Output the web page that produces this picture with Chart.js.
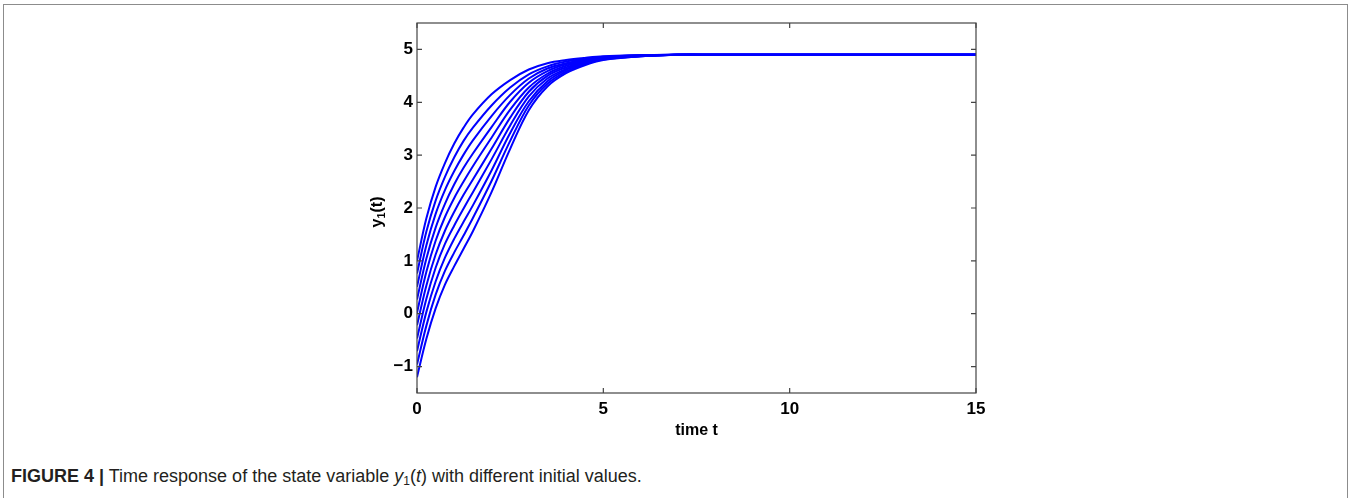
<!DOCTYPE html>
<html>
<head>
<meta charset="utf-8">
<script src="https://cdn.jsdelivr.net/npm/chart.js@4.4.1/dist/chart.umd.min.js"></script>
<style>
  html, body { margin: 0; padding: 0; background: #fff; }
  body { width: 1355px; height: 498px; position: relative; overflow: hidden; }
  .frame {
    position: absolute; left: 3px; top: 4px; width: 1345px; height: 600px;
    border: 1.5px solid #8c8c8c; box-sizing: border-box;
  }
  #wrap { position: absolute; left: 0; top: 0; width: 1355px; height: 445px; }
  .caption {
    position: absolute; left: 11px; top: 466px;
    font-family: "Liberation Sans", Arial, sans-serif; font-size: 18px; color: #231f20;
    white-space: nowrap;
  }
  .caption sub { font-size: 12px; vertical-align: -3px; line-height: 0; }
</style>
</head>
<body>
<div class="frame"></div>
<div id="wrap"><canvas id="chart" width="1355" height="445"></canvas></div>
<div class="caption"><b>FIGURE 4 |</b> Time response of the state variable <i>y</i><sub>1</sub>(<i>t</i>) with different initial values.</div>
<script>
// sample times
const times = [0, 0.25, 0.5, 0.75, 1, 1.25, 1.5, 2, 2.5, 3, 3.5, 4, 4.5, 5, 6, 7, 8, 10, 15];

// y1(t) for each initial value (top curve first)
const curve1 = [1.0, 1.8, 2.4, 2.85, 3.22, 3.52, 3.77, 4.15, 4.42, 4.62, 4.74, 4.8, 4.84, 4.87, 4.89, 4.9, 4.9, 4.9, 4.9];
const curve2 = [0.76, 1.55, 2.14, 2.59, 2.96, 3.27, 3.52, 3.94, 4.28, 4.53, 4.68, 4.77, 4.82, 4.86, 4.89, 4.9, 4.9, 4.9, 4.9];
const curve3 = [0.51, 1.29, 1.89, 2.34, 2.70, 3.01, 3.28, 3.74, 4.14, 4.45, 4.64, 4.74, 4.81, 4.85, 4.89, 4.9, 4.9, 4.9, 4.9];
const curve4 = [0.27, 1.04, 1.63, 2.08, 2.45, 2.76, 3.03, 3.53, 4.01, 4.37, 4.59, 4.72, 4.79, 4.85, 4.88, 4.9, 4.9, 4.9, 4.9];
const curve5 = [0.02, 0.79, 1.38, 1.83, 2.19, 2.50, 2.79, 3.33, 3.86, 4.28, 4.54, 4.69, 4.78, 4.84, 4.88, 4.9, 4.9, 4.9, 4.9];
const curve6 = [-0.22, 0.53, 1.12, 1.57, 1.93, 2.25, 2.54, 3.12, 3.71, 4.20, 4.50, 4.66, 4.76, 4.83, 4.88, 4.9, 4.9, 4.9, 4.9];
const curve7 = [-0.47, 0.28, 0.87, 1.32, 1.67, 1.99, 2.30, 2.92, 3.56, 4.11, 4.45, 4.63, 4.75, 4.82, 4.88, 4.9, 4.9, 4.9, 4.9];
const curve8 = [-0.71, 0.03, 0.61, 1.06, 1.42, 1.74, 2.05, 2.71, 3.42, 4.02, 4.40, 4.61, 4.73, 4.82, 4.87, 4.9, 4.9, 4.9, 4.9];
const curve9 = [-0.96, -0.23, 0.36, 0.81, 1.16, 1.48, 1.81, 2.51, 3.27, 3.94, 4.35, 4.58, 4.72, 4.81, 4.87, 4.9, 4.9, 4.9, 4.9];
const curve10 = [-1.2, -0.48, 0.1, 0.55, 0.9, 1.23, 1.56, 2.3, 3.12, 3.85, 4.3, 4.55, 4.7, 4.8, 4.87, 4.9, 4.9, 4.9, 4.9];

const curves = [curve1, curve2, curve3, curve4, curve5, curve6, curve7, curve8, curve9, curve10];

// axis ticks
const xTicks = [0, 5, 10, 15];
const yTicks = [-1, 0, 1, 2, 3, 4, 5];

const fontFamily = '"Liberation Sans", Arial, sans-serif';

// MATLAB style box with inward ticks, plus the axis titles
const boxPlugin = {
  id: 'box',
  afterDraw(chart) {
    const { ctx, chartArea: a, scales } = chart;
    const len = 5;
    ctx.save();
    ctx.strokeStyle = '#444';
    ctx.lineWidth = 1.2;
    ctx.strokeRect(a.left, a.top, a.right - a.left, a.bottom - a.top);
    ctx.beginPath();
    xTicks.forEach(v => {
      const px = scales.x.getPixelForValue(v);
      ctx.moveTo(px, a.bottom); ctx.lineTo(px, a.bottom - len);
      ctx.moveTo(px, a.top); ctx.lineTo(px, a.top + len);
    });
    yTicks.forEach(v => {
      const py = scales.y.getPixelForValue(v);
      ctx.moveTo(a.left, py); ctx.lineTo(a.left + len, py);
      ctx.moveTo(a.right, py); ctx.lineTo(a.right - len, py);
    });
    ctx.stroke();

    // x title
    ctx.fillStyle = '#000';
    ctx.font = 'bold 16px ' + fontFamily;
    ctx.textAlign = 'center';
    ctx.textBaseline = 'middle';
    ctx.fillText('time t', (a.left + a.right) / 2, a.bottom + 38);

    // y title: y1(t) with subscript
    ctx.translate(a.left - 41, (a.top + a.bottom) / 2 + 4);
    ctx.rotate(-Math.PI / 2);
    ctx.textAlign = 'left';
    ctx.textBaseline = 'alphabetic';
    const big = 'bold 16px ' + fontFamily;
    const small = 'bold 11px ' + fontFamily;
    ctx.font = big;
    const w1 = ctx.measureText('y').width;
    ctx.font = small;
    const w2 = ctx.measureText('1').width;
    ctx.font = big;
    const w3 = ctx.measureText('(t)').width;
    let x = -(w1 + w2 + w3) / 2;
    ctx.fillText('y', x, 6);
    x += w1;
    ctx.font = small;
    ctx.fillText('1', x, 9);
    x += w2;
    ctx.font = big;
    ctx.fillText('(t)', x, 6);
    ctx.restore();
  }
};

const datasets = curves.map((c, i) => ({
  label: 'y1 #' + (i + 1),
  data: times.map((t, j) => ({ x: t, y: c[j] })),
  borderColor: '#0000ff',
  borderWidth: 2,
  pointRadius: 0,
  fill: false,
  tension: 0.35
}));

const tickFont = { family: fontFamily, size: 17, weight: 'bold' };

new Chart(document.getElementById('chart'), {
  type: 'line',
  data: { datasets },
  options: {
    responsive: false,
    animation: false,
    events: [],
    layout: { padding: { left: 367, right: 379, top: 23, bottom: 17 } },
    plugins: { legend: { display: false }, tooltip: { enabled: false } },
    scales: {
      x: {
        type: 'linear',
        min: 0,
        max: 15,
        afterBuildTicks: s => { s.ticks = xTicks.map(v => ({ value: v })); },
        afterFit: s => { s.height = 35; },
        grid: { display: false, drawTicks: false },
        border: { display: false },
        ticks: { color: '#000', font: tickFont, padding: 6, maxRotation: 0 }
      },
      y: {
        type: 'linear',
        min: -1.5,
        max: 5.5,
        afterBuildTicks: s => { s.ticks = yTicks.map(v => ({ value: v })); },
        afterFit: s => { s.width = 50; },
        grid: { display: false, drawTicks: false },
        border: { display: false },
        ticks: {
          color: '#000', font: tickFont, padding: 4,
          callback: v => (v < 0 ? '\u2212' + Math.abs(v) : String(v))
        }
      }
    }
  },
  plugins: [boxPlugin]
});
</script>
</body>
</html>
